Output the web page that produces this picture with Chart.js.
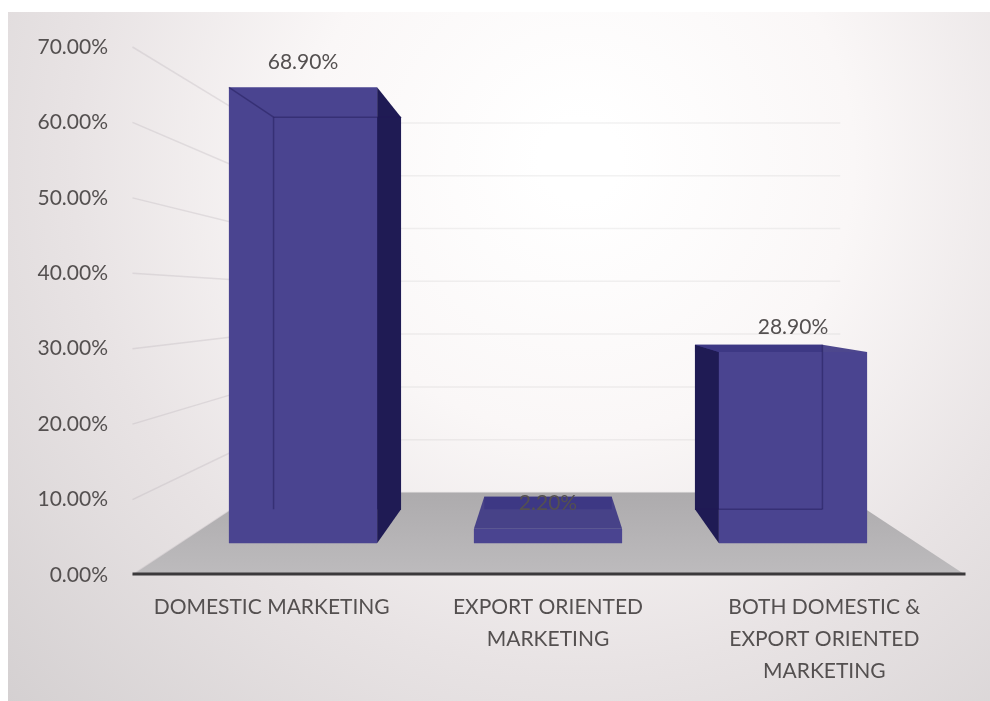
<!DOCTYPE html>
<html>
<head>
<meta charset="utf-8">
<script src="https://cdn.jsdelivr.net/npm/chart.js@4.4.1/dist/chart.umd.min.js"></script>
<style>
  html, body { margin: 0; padding: 0; background: #fff; }
  canvas { display: block; }
</style>
</head>
<body>
<canvas id="myChart" width="990" height="701"></canvas>
<script>
var categories = [
  ["DOMESTIC MARKETING"],
  ["EXPORT ORIENTED", "MARKETING"],
  ["BOTH DOMESTIC &", "EXPORT ORIENTED", "MARKETING"]
];
var shares = [68.90, 2.20, 28.90];
var yTicks = [0, 10, 20, 30, 40, 50, 60, 70];
var labelSlots = [0, 1, 2];

var barColor = "#4a4490";
var sideColor = "#1f1b54";
var topColor = "rgba(62, 56, 132, 0.92)";
var textColor = "#545050";
var font = "Lato";

// fake perspective: every back edge shrinks toward this point
var eye = { x: 548, y: 300 };
var barDepth = 0.86;
var floorDepth = 0.70;

function toward(p, s) {
  return { x: eye.x + (p.x - eye.x) * s, y: eye.y + (p.y - eye.y) * s };
}

function poly(c, pts, fill) {
  c.beginPath();
  c.moveTo(pts[0].x, pts[0].y);
  for (var i = 1; i < pts.length; i++) c.lineTo(pts[i].x, pts[i].y);
  c.closePath();
  c.fillStyle = fill;
  c.fill();
}

function line(c, a, b, color, w) {
  c.beginPath();
  c.moveTo(a.x, a.y);
  c.lineTo(b.x, b.y);
  c.strokeStyle = color;
  c.lineWidth = w;
  c.stroke();
}

function corners(bar) {
  var l = bar.x - bar.width / 2, r = bar.x + bar.width / 2;
  var f = { lt: {x: l, y: bar.y}, rt: {x: r, y: bar.y}, rb: {x: r, y: bar.base}, lb: {x: l, y: bar.base} };
  var b = {};
  for (var k in f) b[k] = toward(f[k], barDepth);
  return { f: f, b: b };
}

function floorCorners(chart) {
  var area = chart.chartArea;
  var y0 = chart.scales.y.getPixelForValue(0);
  var fl = { x: area.left - 48, y: y0 };
  var fr = { x: area.right + 50, y: y0 };
  return { fl: fl, fr: fr, bl: toward(fl, floorDepth), br: toward(fr, floorDepth) };
}

// axes keep their size but do not push the plot area around
function noEdgePadding(axis) {
  axis.paddingTop = 0;
  axis.paddingBottom = 0;
  axis.paddingLeft = 0;
  axis.paddingRight = 0;
}

var backdrop = {
  id: "backdrop",
  beforeDraw: function (chart) {
    var c = chart.ctx;
    c.save();
    c.fillStyle = "#ffffff";
    c.fillRect(0, 0, chart.width, chart.height);
    var g = c.createRadialGradient(580, 160, 40, 580, 160, 820);
    g.addColorStop(0, "#ffffff");
    g.addColorStop(0.3, "#faf7f7");
    g.addColorStop(0.6, "#e8e3e4");
    g.addColorStop(1, "#d2cecf");
    c.fillStyle = g;
    c.fillRect(8, 12, chart.width - 8, chart.height - 12);
    c.restore();
  }
};

var stage = {
  id: "stage",
  beforeDatasetsDraw: function (chart) {
    var c = chart.ctx;
    var fc = floorCorners(chart);
    c.save();

    // wall gridlines, side wall then back wall
    yTicks.forEach(function (v) {
      var p = { x: fc.fl.x, y: chart.scales.y.getPixelForValue(v) };
      var q = toward(p, floorDepth);
      line(c, p, q, "rgba(170, 165, 170, 0.25)", 1.5);
      line(c, q, { x: fc.br.x, y: q.y }, "rgba(170, 165, 170, 0.15)", 1.5);
    });

    var fg = c.createLinearGradient(0, fc.bl.y, 0, fc.fl.y);
    fg.addColorStop(0, "#adabad");
    fg.addColorStop(1, "#bdbbbd");
    poly(c, [fc.bl, fc.br, fc.fr, fc.fl], fg);
    line(c, { x: fc.fl.x, y: fc.fl.y - 1 }, { x: fc.fr.x, y: fc.fr.y - 1 }, "#3b393b", 3);

    var meta = chart.getDatasetMeta(0);
    var boxes = meta.data.map(function (el) {
      return corners(el.getProps(["x", "y", "base", "width"], true));
    });

    boxes.forEach(function (k) {
      poly(c, [k.b.lt, k.b.rt, k.b.rb, k.b.lb], "#3a3482");
      if (k.f.rt.x < eye.x) poly(c, [k.f.rt, k.b.rt, k.b.rb, k.f.rb], sideColor);
      if (k.f.lt.x > eye.x) poly(c, [k.f.lt, k.b.lt, k.b.lb, k.f.lb], sideColor);
      if (k.f.lt.y > eye.y) poly(c, [k.f.lt, k.f.rt, k.b.rt, k.b.lt], topColor);
    });

    // value labels sit above the front top edge
    c.font = "21px " + font;
    c.fillStyle = textColor;
    c.textAlign = "center";
    c.textBaseline = "middle";
    meta.data.forEach(function (el, i) {
      c.fillText(shares[i].toFixed(2) + "%", el.x, el.y - 25);
    });
    c.restore();
  },
  afterDatasetsDraw: function (chart) {
    var c = chart.ctx;
    c.save();
    chart.getDatasetMeta(0).data.forEach(function (el) {
      var k = corners(el.getProps(["x", "y", "base", "width"], true));
      var edge = "rgba(30, 25, 85, 0.45)";
      if (k.f.rt.x < eye.x) {
        line(c, k.f.lt, k.b.lt, edge, 1.5);
        line(c, k.b.lt, k.b.rt, edge, 1.5);
        line(c, k.b.lt, k.b.lb, edge, 1.5);
      } else if (k.f.lt.x > eye.x) {
        line(c, k.b.rt, k.b.rb, edge, 1.5);
        line(c, k.b.rb, k.b.lb, edge, 1.5);
      }
    });
    c.restore();
  }
};

var ctx = document.getElementById("myChart");
var myChart = new Chart(ctx, {
  type: "bar",
  data: {
    labels: categories,
    datasets: [{
      label: "Share",
      data: shares,
      xAxisID: "xb",
      yAxisID: "yb",
      backgroundColor: barColor,
      borderWidth: 0,
      barPercentage: 0.605,
      categoryPercentage: 1
    }]
  },
  options: {
    responsive: false,
    animation: false,
    layout: { padding: { top: 47, right: 74.5, left: 0, bottom: 0 } },
    plugins: {
      legend: { display: false },
      tooltip: { enabled: false }
    },
    scales: {
      x: {
        type: "linear",
        position: "bottom",
        bounds: "data",
        offset: false,
        min: -0.33,
        max: 2.33,
        afterBuildTicks: function (axis) {
          axis.ticks = labelSlots.map(function (v) { return { value: v }; });
        },
        afterFit: function (axis) {
          axis.height = 126;
          noEdgePadding(axis);
        },
        grid: { display: false, drawTicks: false },
        border: { display: false },
        ticks: {
          autoSkip: false,
          maxRotation: 0,
          padding: 16,
          color: textColor,
          font: { family: font, size: 21, lineHeight: 1.52 },
          callback: function (value) { return categories[Math.round(value)]; }
        }
      },
      y: {
        type: "linear",
        position: "left",
        min: 0,
        max: 70,
        afterBuildTicks: function (axis) {
          axis.ticks = yTicks.map(function (v) { return { value: v }; });
        },
        afterFit: function (axis) {
          axis.width = 180.5;
          noEdgePadding(axis);
        },
        grid: { display: false, drawTicks: false },
        border: { display: false },
        ticks: {
          padding: 72.5,
          color: textColor,
          font: { family: font, size: 21 },
          callback: function (value) { return value.toFixed(2) + "%"; }
        }
      },
      xb: { type: "category", display: false, offset: true },
      yb: { type: "linear", display: false, min: -4.8, max: 75 }
    }
  },
  plugins: [backdrop, stage]
});
</script>
</body>
</html>
